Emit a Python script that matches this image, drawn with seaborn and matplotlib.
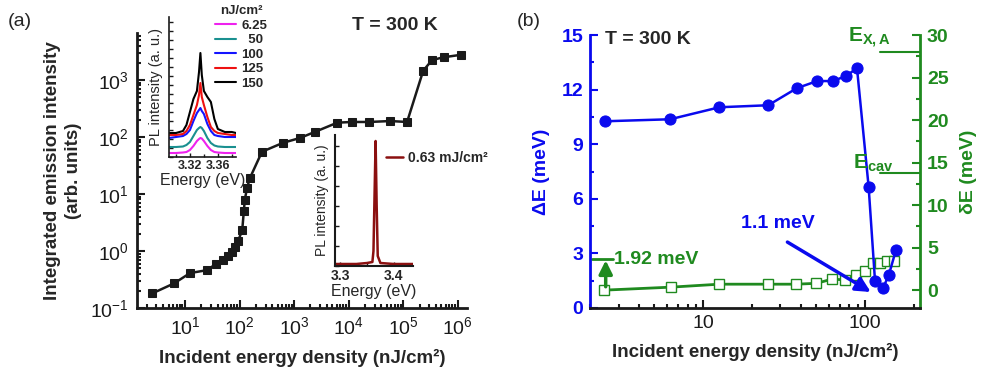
import numpy as np
import pandas as pd
import matplotlib
matplotlib.use('Agg')
import matplotlib.pyplot as plt
import seaborn as sns
from matplotlib.lines import Line2D
from matplotlib.ticker import LogLocator, MultipleLocator, NullFormatter, FuncFormatter

sns.set_theme(style='ticks')
plt.rcParams['font.family'] = ['Liberation Sans', 'DejaVu Sans']
plt.rcParams['mathtext.fontset'] = 'custom'
plt.rcParams['mathtext.rm'] = 'Liberation Sans'
plt.rcParams['mathtext.bf'] = 'Liberation Sans:bold'
plt.rcParams['mathtext.it'] = 'Liberation Sans:italic'

BLUE = '#0a0aee'
GREEN = '#1f8a1f'

# ---- panel (a): integrated emission vs incident energy density
fluence_a = [2.5, 6.3, 12.4, 25, 37, 50, 62, 73, 83, 94, 112, 120, 125, 137,
             155, 258, 630, 1290, 2430, 6200, 11600, 23700, 58000, 118000,
             233000, 340000, 560000, 1150000]
intensity_a = [0.18, 0.27, 0.41, 0.46, 0.59, 0.70, 0.82, 0.96, 1.17, 1.5, 2.3,
               5.0, 7.9, 12.6, 19, 55, 79, 96, 123, 178, 183, 183, 190, 183,
               1450, 2240, 2500, 2760]

# inset 1: low-density PL spectra
energy_in1 = [3.29, 3.30, 3.31, 3.315, 3.32, 3.325, 3.33, 3.333, 3.335, 3.337,
              3.34, 3.345, 3.35, 3.355, 3.36, 3.37, 3.38, 3.386]
spectra_in1 = {
    '6.25': [4, 4, 4.5, 5, 7, 11, 16, 18, 19, 18.5, 16, 11, 7, 5, 4.5, 4, 4, 4],
    '50': [10, 10, 10.5, 12, 15, 21, 27, 29, 30, 29, 26, 19, 14, 11.5, 10.5, 10, 10, 10],
    '100': [19, 20, 21, 23, 27, 36, 44, 47, 49, 46, 43, 33, 26, 22, 21, 20, 20, 20],
    '125': [22, 22, 23, 26, 32, 42, 52, 62, 74, 60, 52, 40, 30, 26, 24, 23, 22, 22],
    '150': [24, 24, 26, 32, 45, 58, 66, 85, 104, 82, 66, 60, 55, 38, 28, 25, 25, 24],
}
colors_in1 = ['#ee22ee', '#1a9090', '#1414ff', '#ee1111', '#000000']
labels_in1 = ['6.25', '  50', '100', '125', '150']

# inset 2: high-density lasing spectrum
energy_in2 = [3.29, 3.33, 3.35, 3.36, 3.362, 3.364, 3.366, 3.368, 3.370, 3.375, 3.40, 3.436]
spectrum_in2 = [2, 2, 3, 4, 15, 70, 125, 60, 10, 3, 2, 2]

# ---- panel (b): splitting and linewidth vs incident energy density
fluence_dE = [2.48, 6.25, 12.6, 25.2, 37.9, 50.5, 63, 76, 89, 105, 115, 129, 140, 155]
delta_E = [10.26, 10.37, 11.03, 11.14, 12.08, 12.47, 12.47, 12.74, 13.18, 6.67,
           1.49, 1.10, 1.82, 3.2]
fluence_dw = [2.45, 6.3, 12.6, 25, 37.5, 50, 62.5, 75, 87.5, 100, 112, 124, 137, 150]
small_dE = [0, 0.35, 0.7, 0.7, 0.7, 0.8, 1.3, 1.2, 1.8, 2.2, 3.2, 3.2, 3.4, 3.4]

W, H = 988, 371


def box(l, t, r, b):
    return [l / W, 1 - b / H, (r - l) / W, (b - t) / H]


fig = plt.figure(figsize=(W / 100, H / 100), dpi=100)

# ================= panel (a)
ax = fig.add_axes(box(137, 33, 467, 308))
ax.set_xscale('log')
ax.set_yscale('log')
sns.lineplot(x=fluence_a, y=intensity_a, ax=ax, color='k', lw=1.8, marker='s',
             markersize=6, markeredgecolor='k', markerfacecolor='k', sort=False,
             estimator=None)
ax.set_xlim(1.32, 1.48e6)
ax.set_ylim(0.1, 6650)
for s in ['top', 'right']:
    ax.spines[s].set_visible(False)
for s in ['left', 'bottom']:
    ax.spines[s].set_linewidth(2)
    ax.spines[s].set_color('k')
ax.xaxis.set_major_locator(LogLocator(base=10, numticks=12))
ax.xaxis.set_minor_locator(LogLocator(base=10, subs=np.arange(2, 10), numticks=12))
ax.yaxis.set_major_locator(LogLocator(base=10, numticks=12))
ax.yaxis.set_minor_locator(LogLocator(base=10, subs=np.arange(2, 10), numticks=12))
ax.xaxis.set_minor_formatter(NullFormatter())
ax.yaxis.set_minor_formatter(NullFormatter())
ax.tick_params(which='both', direction='in', color='k', width=1.5, labelsize=14,
               labelcolor='k')
ax.tick_params(which='major', length=6, pad=6)
ax.tick_params(which='minor', length=3)
ax.set_xlabel('Incident energy density (nJ/cm²)', fontsize=13.5, fontweight='bold',
              labelpad=8)
ax.set_ylabel('Integrated emission intensity\n(arb. units)', fontsize=13.5,
              fontweight='bold', labelpad=6, linespacing=1.3)
fig.text(395 / W, 1 - 25 / H, 'T = 300 K', fontsize=14, fontweight='bold',
         ha='center', va='center')
fig.text(8 / W, 1 - 22 / H, '(a)', fontsize=14, ha='left', va='center')

# ---- inset 1
ax1 = fig.add_axes(box(169, 17, 236, 157))
for (name, vals), c in zip(spectra_in1.items(), colors_in1):
    sns.lineplot(x=energy_in1, y=vals, ax=ax1, color=c, lw=1.5, sort=False,
                 estimator=None)
ax1.set_xlim(3.29, 3.386)
ax1.set_ylim(0, 140)
for s in ['top', 'right']:
    ax1.spines[s].set_visible(False)
for s in ['left', 'bottom']:
    ax1.spines[s].set_linewidth(1.2)
    ax1.spines[s].set_color('k')
ax1.xaxis.set_major_locator(MultipleLocator(0.04))
ax1.xaxis.set_minor_locator(MultipleLocator(0.02))
ax1.yaxis.set_major_locator(MultipleLocator(9))
ax1.yaxis.set_major_formatter(NullFormatter())
ax1.tick_params(which='both', direction='in', color='k', width=1, labelsize=9)
ax1.tick_params(which='major', length=3, pad=2)
ax1.tick_params(which='minor', length=2)
for lb in ax1.get_xticklabels():
    lb.set_fontweight('bold')
ax1.set_xlabel('Energy (eV)', fontsize=11.5, labelpad=1)
ax1.set_ylabel('PL intensity (a. u.)', fontsize=10.5, labelpad=2)
handles = [Line2D([], [], color=c, lw=1.5) for c in colors_in1]
leg = ax1.legend(handles, labels_in1, title='nJ/cm²', loc='upper left',
                 bbox_to_anchor=(215 / W, 1 - 5 / H), bbox_transform=fig.transFigure,
                 frameon=False, fontsize=9.5, title_fontsize=9.5, handlelength=1.6,
                 handletextpad=0.4, labelspacing=0.18, borderpad=0, borderaxespad=0)
for t in leg.get_texts():
    t.set_fontweight('bold')
leg.get_title().set_fontweight('bold')

# ---- inset 2
ax2 = fig.add_axes(box(335, 135, 413, 266))
sns.lineplot(x=energy_in2, y=spectrum_in2, ax=ax2, color='#8b1010', lw=1.8,
             sort=False, estimator=None)
ax2.set_xlim(3.29, 3.436)
ax2.set_ylim(0, 131)
for s in ['top', 'right']:
    ax2.spines[s].set_visible(False)
for s in ['left', 'bottom']:
    ax2.spines[s].set_linewidth(1.5)
    ax2.spines[s].set_color('k')
ax2.xaxis.set_major_locator(MultipleLocator(0.1))
ax2.xaxis.set_minor_locator(MultipleLocator(0.05))
ax2.yaxis.set_major_locator(MultipleLocator(20))
ax2.yaxis.set_major_formatter(NullFormatter())
ax2.tick_params(which='both', direction='in', color='k', width=1, labelsize=10)
ax2.tick_params(which='major', length=3, pad=2)
ax2.tick_params(which='minor', length=2)
for lb in ax2.get_xticklabels():
    lb.set_fontweight('bold')
ax2.set_xlabel('Energy (eV)', fontsize=11.5, labelpad=1)
ax2.set_ylabel('PL intensity (a. u.)', fontsize=10, labelpad=2)
leg2 = ax2.legend([Line2D([], [], color='#8b1010', lw=1.8)], ['0.63 mJ/cm²'],
                  loc='center left', bbox_to_anchor=(386 / W, 1 - 158 / H),
                  bbox_transform=fig.transFigure, frameon=False, fontsize=10,
                  handlelength=1.2, handletextpad=0.4, borderpad=0, borderaxespad=0)
for t in leg2.get_texts():
    t.set_fontweight('bold')

# ================= panel (b)
axb = fig.add_axes(box(590, 35, 920, 308))
axb.set_xscale('log')
axr = axb.twinx()
sns.lineplot(x=fluence_dw, y=small_dE, ax=axr, color=GREEN, lw=2, marker='s',
             markersize=7, markerfacecolor='white', markeredgecolor=GREEN,
             markeredgewidth=1, sort=False, estimator=None)
sns.lineplot(x=fluence_dE, y=delta_E, ax=axb, color=BLUE, lw=1.8, marker='o',
             markersize=8, markerfacecolor=BLUE, markeredgecolor=BLUE, sort=False,
             estimator=None)
axb.set_zorder(axr.get_zorder() + 1)
axb.patch.set_visible(False)
axb.set_xlim(2.0, 218)
axb.set_ylim(0, 15)
axr.set_ylim(-2.1, 30)
axb.spines['top'].set_visible(False)
axr.spines['top'].set_visible(False)
axb.spines['right'].set_visible(False)
axb.spines['left'].set_color(BLUE)
axb.spines['left'].set_linewidth(2)
axb.spines['bottom'].set_color('k')
axb.spines['bottom'].set_linewidth(2)
axr.spines['left'].set_visible(False)
axr.spines['bottom'].set_visible(False)
axr.spines['right'].set_color(GREEN)
axr.spines['right'].set_linewidth(2)
axb.xaxis.set_major_locator(LogLocator(base=10, numticks=12))
axb.xaxis.set_minor_locator(LogLocator(base=10, subs=np.arange(2, 10), numticks=12))
axb.xaxis.set_major_formatter(FuncFormatter(lambda v, p: f'{v:g}'))
axb.xaxis.set_minor_formatter(NullFormatter())
axb.yaxis.set_major_locator(MultipleLocator(3))
axb.yaxis.set_minor_locator(MultipleLocator(1.5))
axr.yaxis.set_major_locator(MultipleLocator(5))
axr.yaxis.set_minor_locator(MultipleLocator(2.5))
axr.set_yticks([0, 5, 10, 15, 20, 25, 30])
axb.tick_params(axis='x', which='both', direction='in', color='k', width=1.5,
                labelsize=14, labelcolor='k')
axb.tick_params(axis='y', which='both', direction='in', color=BLUE, width=1.5,
                labelsize=14, labelcolor=BLUE)
axr.tick_params(axis='y', which='both', direction='in', color=GREEN, width=1.5,
                labelsize=14, labelcolor=GREEN)
for a in (axb, axr):
    a.tick_params(which='major', length=6, pad=5)
    a.tick_params(which='minor', length=3)
for lb in axb.get_yticklabels() + axr.get_yticklabels():
    lb.set_fontweight('bold')
axb.set_xlabel('Incident energy density (nJ/cm²)', fontsize=13.5, fontweight='bold',
               labelpad=8)
axb.set_ylabel('ΔE (meV)', fontsize=14, fontweight='bold', color=BLUE, labelpad=8)
axr.set_ylabel('δE (meV)', fontsize=14, fontweight='bold', color=GREEN, labelpad=8)

fig.text(517 / W, 1 - 22 / H, '(b)', fontsize=14, ha='left', va='center')
fig.text(605 / W, 1 - 40 / H, 'T = 300 K', fontsize=14, fontweight='bold',
         ha='left', va='center')

# energy markers on right axis
axr.plot([0.88, 1.0], [28, 28], color=GREEN, lw=1.5, transform=axr.get_yaxis_transform(),
         clip_on=False)
axr.plot([0.88, 1.0], [13.8, 13.8], color=GREEN, lw=1.5,
         transform=axr.get_yaxis_transform(), clip_on=False)
fig.text(848 / W, 1 - 38 / H, r'$\mathbf{E_{X,A}}$', fontsize=15, color=GREEN,
         ha='left', va='center')
fig.text(853 / W, 1 - 163 / H, r'$\mathbf{E_{cav}}$', fontsize=15, color=GREEN,
         ha='left', va='center')

# 1.92 meV linewidth marker
axr.annotate('', xy=(2.5, 3.5), xytext=(2.5, 0.4),
             arrowprops=dict(arrowstyle='-|>', color=GREEN, lw=2.5, mutation_scale=20,
                             shrinkA=0, shrinkB=0))
axr.plot([2.07, 2.78], [3.65, 3.65], color=GREEN, lw=2)
axr.text(2.8, 3.65, '1.92 meV', fontsize=14, fontweight='bold', color=GREEN,
         ha='left', va='center')

# 1.1 meV splitting marker
axb.annotate('', xy=(112, 0.8), xytext=(32, 3.7),
             arrowprops=dict(arrowstyle='-|>', color=BLUE, lw=2.5, mutation_scale=22))
axb.text(17, 4.65, '1.1 meV', fontsize=14, fontweight='bold', color=BLUE,
         ha='left', va='center')

fig.savefig('out.png', dpi=100)
